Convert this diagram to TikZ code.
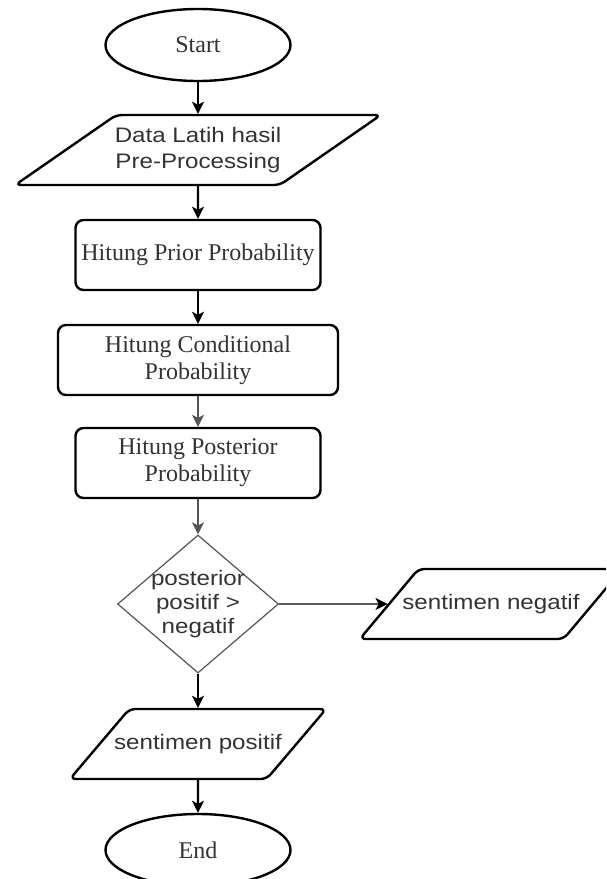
\documentclass[tikz,border=0pt]{standalone}
\usepackage{fontspec}
\setmainfont{Liberation Serif}
\newfontfamily\flowsans[FakeStretch=1.15]{Liberation Sans}
\usetikzlibrary{positioning, arrows.meta, shapes.geometric}
\definecolor{flowtext}{HTML}{333333}
\definecolor{flowgray}{HTML}{555555}

\begin{document}
\begin{tikzpicture}[auto, on grid, x=1pt, y=1pt,
    terminal/.style={ellipse, draw=black, line width=2.4pt, minimum width=185pt, minimum height=72pt, inner sep=0pt, text=flowtext, font=\fontsize{24}{27}\selectfont},
    process/.style={rectangle, rounded corners=8pt, draw=black, line width=2.4pt, minimum height=70pt, inner sep=1pt, align=center, text=flowtext, font=\fontsize{24}{27}\selectfont},
    io/.style={trapezium, trapezium stretches=true, trapezium left angle=50, trapezium right angle=130, rounded corners=6pt, draw=black, line width=2.4pt, text height=15pt, text depth=5pt, inner xsep=-16pt, inner ysep=25pt, minimum height=70pt, align=center, text=flowtext, font=\flowsans\fontsize{21}{26}\selectfont},
    decision/.style={diamond, draw=flowgray, line width=1.2pt, minimum width=161pt, minimum height=138pt, inner sep=0pt},
    decisionlabel/.style={align=center, text=flowtext, font=\flowsans\fontsize{21}{24}\selectfont},
    flowline/.style={draw=black, line width=2.4pt, -{Stealth[length=12pt, width=12pt, inset=3pt]}},
    thinline/.style={flowline, line width=1.2pt}]
  \clip (-198,45) rectangle (408,-834);
  \node[terminal] (start) {Start};
  \node[io, minimum width=366pt, trapezium left angle=40, trapezium right angle=140, text height=, text depth=, inner ysep=12pt, below=105pt of start] (data) {Data Latih hasil\\Pre-Processing};
  \node[process, minimum width=245pt, below=105pt of data] (prior) {Hitung Prior Probability};
  \node[process, minimum width=280pt, below=105pt of prior] (cond) {Hitung Conditional\\Probability};
  \node[process, minimum width=245pt, below=103pt of cond] (post) {Hitung Posterior\\Probability};
  \node[decision, below=141pt of post, label={[decisionlabel]center:{posterior\\positif >\\negatif}}] (dec) {};
  \node[io, minimum width=263pt, right=293pt of dec] (neg) {sentimen negatif};
  \node[io, minimum width=257pt, below=140pt of dec] (pos) {sentimen positif};
  \node[terminal, below=106pt of pos] (end) {End};

  \draw[flowline] (start) -- (data);
  \draw[flowline] (data) -- (prior);
  \draw[flowline] (prior) -- (cond);
  \draw[thinline, draw=flowgray] (cond) -- (post);
  \draw[thinline, draw=flowgray] (post) -- (dec);
  \draw[thinline] (dec) -- (neg);
  \draw[flowline] (dec) -- (pos);
  \draw[flowline] (pos) -- (end);
\end{tikzpicture}
\end{document}
